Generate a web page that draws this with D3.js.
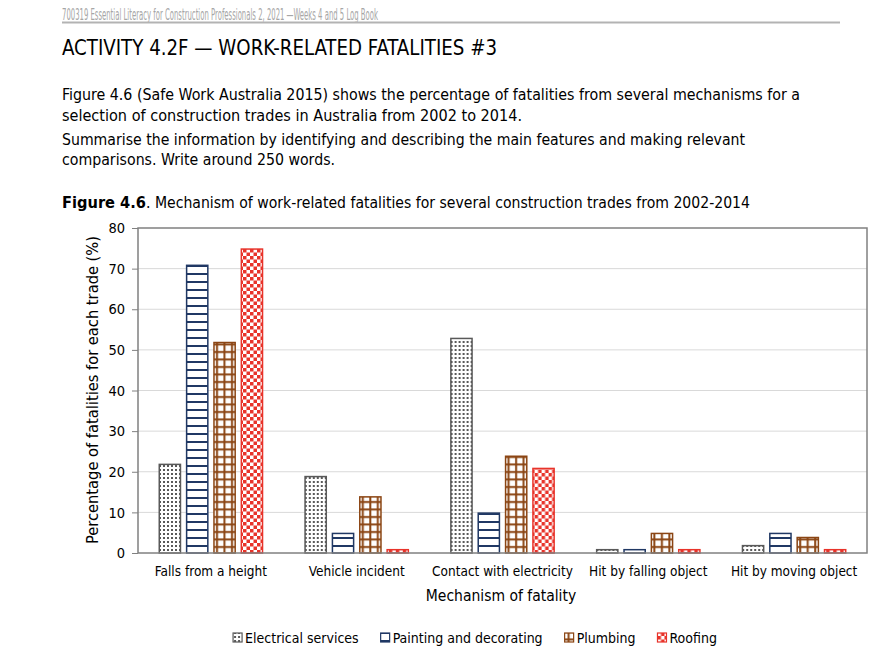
<!DOCTYPE html>
<html>
<head>
<meta charset="utf-8">
<script src="https://cdn.jsdelivr.net/npm/d3@7"></script>
<style>
  body { margin: 0; background: #fff; }
  svg text { font-family: "DejaVu Sans Condensed", "DejaVu Sans", sans-serif; }
  .narrow { font-family: "Liberation Sans Narrow", "DejaVu Sans Condensed", sans-serif !important; }
</style>
</head>
<body>
<div class="canva"></div>
<script>
// chart data
const mechanisms = ["Falls from a height", "Vehicle incident", "Contact with electricity",
                    "Hit by falling object", "Hit by moving object"];
const trades = ["Electrical services", "Painting and decorating", "Plumbing", "Roofing"];
const electrical = [22, 19, 53, 1, 2];
const painting   = [71, 5, 10, 1, 5];
const plumbing   = [52, 14, 24, 5, 4];
const roofing    = [75, 1, 21, 1, 1];
const yTicks = [0, 10, 20, 30, 40, 50, 60, 70, 80];

const seriesValues = [electrical, painting, plumbing, roofing];
const tradeColors = ["#595959", "#203864", "#8B4513", "#E8332A"];

const svg = d3.select(".canva").append("svg")
    .attr("width", 896)
    .attr("height", 666);

// ---- patterns ----
const defs = svg.append("defs");

const pDots = defs.append("pattern").attr("id", "pat0")
    .attr("patternUnits", "userSpaceOnUse").attr("width", 4).attr("height", 4);
pDots.append("rect").attr("width", 4).attr("height", 4).attr("fill", "#fff");
pDots.append("rect").attr("x", 1).attr("y", 1).attr("width", 2).attr("height", 2).attr("fill", "#595959");

const pHoriz = defs.append("pattern").attr("id", "pat1")
    .attr("patternUnits", "userSpaceOnUse").attr("width", 8).attr("height", 8);
pHoriz.append("rect").attr("width", 8).attr("height", 8).attr("fill", "#fff");
pHoriz.append("rect").attr("y", 5).attr("width", 8).attr("height", 2).attr("fill", "#203864");

const pGrid = defs.append("pattern").attr("id", "pat2")
    .attr("patternUnits", "userSpaceOnUse").attr("width", 7.5).attr("height", 7.5);
pGrid.append("rect").attr("width", 7.5).attr("height", 7.5).attr("fill", "#fff");
pGrid.append("rect").attr("x", 3).attr("width", 2).attr("height", 7.5).attr("fill", "#8B4513");
pGrid.append("rect").attr("y", 3).attr("width", 7.5).attr("height", 2).attr("fill", "#8B4513");

const pCheck = defs.append("pattern").attr("id", "pat3")
    .attr("patternUnits", "userSpaceOnUse").attr("width", 7).attr("height", 7);
pCheck.append("rect").attr("width", 7).attr("height", 7).attr("fill", "#fff");
pCheck.append("rect").attr("width", 3.5).attr("height", 3.5).attr("fill", "#E8332A");
pCheck.append("rect").attr("x", 3.5).attr("y", 3.5).attr("width", 3.5).attr("height", 3.5).attr("fill", "#E8332A");

// ---- page text ----
svg.append("text").attr("class", "narrow")
    .attr("x", 62).attr("y", 19.5)
    .attr("font-size", "15px").attr("fill", "#a6a6a6")
    .attr("textLength", 316).attr("lengthAdjust", "spacingAndGlyphs")
    .text("700319 Essential Literacy for Construction Professionals 2, 2021 \u2014Weeks 4 and 5 Log Book");
svg.append("line")
    .attr("x1", 62).attr("x2", 840).attr("y1", 22.5).attr("y2", 22.5)
    .attr("stroke", "#b3b3b3").attr("stroke-width", 2);

svg.append("text").attr("class", "narrow")
    .attr("x", 62).attr("y", 55)
    .attr("font-size", "21px").attr("fill", "#000")
    .attr("textLength", 435).attr("lengthAdjust", "spacingAndGlyphs")
    .text("ACTIVITY 4.2F \u2014 WORK-RELATED FATALITIES #3");

const para = [
    {t: "Figure 4.6 (Safe Work Australia 2015) shows the percentage of fatalities from several mechanisms for a", y: 100, w: 738},
    {t: "selection of construction trades in Australia from 2002 to 2014.", y: 121, w: 460},
    {t: "Summarise the information by identifying and describing the main features and making relevant", y: 145, w: 683},
    {t: "comparisons. Write around 250 words.", y: 165, w: 273}
];
svg.selectAll(".para").data(para).enter().append("text")
    .attr("class", "para narrow")
    .attr("x", 62).attr("y", d => d.y)
    .attr("font-size", "16px")
    .attr("textLength", d => d.w).attr("lengthAdjust", "spacingAndGlyphs")
    .text(d => d.t);

const cap = svg.append("text")
    .attr("y", 208)
    .attr("font-size", "15px");
cap.append("tspan").attr("x", 62).attr("font-weight", "bold")
    .style("font-family", "'DejaVu Sans', sans-serif")
    .attr("textLength", 84).attr("lengthAdjust", "spacingAndGlyphs").text("Figure 4.6");
cap.append("tspan").attr("x", 146)
    .style("font-family", "'DejaVu Sans', sans-serif")
    .attr("textLength", 604).attr("lengthAdjust", "spacingAndGlyphs")
    .text(". Mechanism of work-related fatalities for several construction trades from 2002-2014");

// ---- chart ----
const margin = {top: 228, left: 138};
const graphWidth = 867 - 138;
const graphHeight = 553 - 228;

const mainCanvas = svg.append("g")
    .attr("transform", `translate(${margin.left}, ${margin.top})`);

const x0 = d3.scaleBand().domain(mechanisms).range([0, graphWidth]);
const x1 = d3.scaleBand().domain(trades).range([0, x0.bandwidth()])
    .paddingInner(0.17).paddingOuter(0.75);
const y = d3.scaleLinear().domain([0, 80]).range([graphHeight, 0]);

// gridlines
mainCanvas.selectAll(".grid").data(yTicks.slice(1, -1)).enter().append("line")
    .attr("x1", 0).attr("x2", graphWidth)
    .attr("y1", d => y(d)).attr("y2", d => y(d))
    .attr("stroke", "#d9d9d9").attr("stroke-width", 1);

// y axis
const yAxis = d3.axisLeft(y).tickValues(yTicks).tickSize(6).tickPadding(7);
const yG = mainCanvas.append("g").call(yAxis);
yG.select(".domain").remove();
yG.selectAll("line").attr("stroke", "#808080");
yG.selectAll("text").attr("font-size", "14.5px").attr("fill", "#000")
    .style("font-family", "'DejaVu Sans Condensed', sans-serif");

// bars
const groups = mainCanvas.selectAll(".group").data(mechanisms).enter().append("g")
    .attr("transform", d => `translate(${x0(d)},0)`);

groups.selectAll("rect")
    .data((m, i) => trades.map((t, k) => ({trade: t, k: k, value: seriesValues[k][i]})))
    .enter().append("rect")
    .attr("x", d => x1(d.trade) + 0.75)
    .attr("width", x1.bandwidth() - 1.5)
    .attr("y", d => y(d.value) + 0.75)
    .attr("height", d => Math.max(0, graphHeight - y(d.value) - 0.75))
    .attr("fill", d => `url(#pat${d.k})`)
    .attr("stroke", d => tradeColors[d.k])
    .attr("stroke-width", 1.5);

// plot border
mainCanvas.append("rect")
    .attr("x", 0).attr("y", 0).attr("width", graphWidth).attr("height", graphHeight)
    .attr("fill", "none").attr("stroke", "#808080").attr("stroke-width", 1.5);

// x axis labels
const xAxis = d3.axisBottom(x0).tickSize(0).tickPadding(13);
const xG = mainCanvas.append("g")
    .attr("transform", `translate(0, ${graphHeight})`)
    .call(xAxis);
xG.select(".domain").remove();
xG.selectAll("text").attr("font-size", "13.5px").attr("fill", "#000")
    .style("font-family", "'DejaVu Sans Condensed', sans-serif");

// axis titles
mainCanvas.append("text")
    .attr("x", 501 - margin.left)
    .attr("y", 601 - margin.top)
    .attr("text-anchor", "middle")
    .attr("font-size", "15.5px")
    .text("Mechanism of fatality");

mainCanvas.append("text")
    .attr("transform", `translate(${98 - margin.left}, ${390 - margin.top}) rotate(-90)`)
    .attr("text-anchor", "middle")
    .attr("font-size", "15.5px")
    .attr("textLength", 308).attr("lengthAdjust", "spacingAndGlyphs")
    .text("Percentage of fatalities for each trade (%)");

// legend
const legend = svg.append("g").attr("transform", "translate(0, 643)");
const items = legend.selectAll(".item").data(trades).enter().append("g");
items.append("rect")
    .attr("y", -10).attr("width", 9).attr("height", 9)
    .attr("fill", (d, i) => `url(#pat${i})`)
    .attr("stroke", (d, i) => tradeColors[i]).attr("stroke-width", 1.2);
items.append("text")
    .attr("x", 12)
    .attr("font-size", "14px")
    .text(d => d);

let cursor = 0;
const widths = [];
items.each(function() {
    widths.push(this.querySelector("text").getComputedTextLength() + 12);
});
const gap = 22;
const total = d3.sum(widths) + gap * (widths.length - 1);
cursor = 475 - total / 2;
items.attr("transform", (d, i) => {
    const pos = cursor;
    cursor += widths[i] + gap;
    return `translate(${pos},0)`;
});
</script>
</body>
</html>
